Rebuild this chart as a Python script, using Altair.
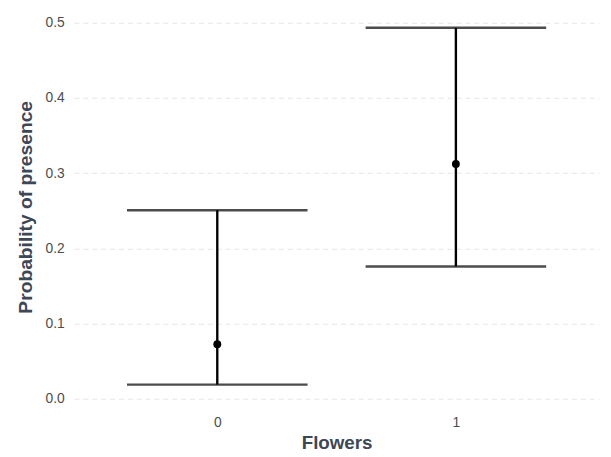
import altair as alt
import pandas as pd

flowers = ["0", "1"]
prob = [0.0726, 0.3123]
lower = [0.0188, 0.1759]
upper = [0.2507, 0.4934]

df = pd.DataFrame({"Flowers": flowers, "prob": prob, "lower": lower, "upper": upper})

title_color = "#3d4756"
label_color = "#4d4d4d"

x = alt.X("Flowers:O", title="Flowers",
          scale=alt.Scale(type="point", padding=0.6),
          axis=alt.Axis(labelAngle=0, ticks=False, domain=False, grid=False,
                        labelColor=label_color, labelFontSize=14, labelPadding=13,
                        titleColor=title_color, titleFontSize=19, titleFontWeight="bold",
                        titlePadding=4, labelFont="Liberation Sans", titleFont="Liberation Sans"))
yscale = alt.Scale(domain=[-0.00525, 0.5157], nice=False, zero=False)
y = alt.Y("prob:Q", title="Probability of presence", scale=yscale,
          axis=alt.Axis(values=[0, 0.1, 0.2, 0.3, 0.4, 0.5], format=".1f",
                        ticks=False, domain=False, grid=True, gridDash=[5, 4],
                        gridColor="#e6e6e6", gridWidth=1,
                        labelColor=label_color, labelFontSize=14, labelPadding=10,
                        titleColor=title_color, titleFontSize=19.5, titleFontWeight="bold",
                        titlePadding=10, labelFont="Liberation Sans", titleFont="Liberation Sans"))

base = alt.Chart(df)
rules = base.mark_rule(color="black", strokeWidth=2.4).encode(
    x=x, y=alt.Y("lower:Q", scale=yscale), y2="upper:Q")
caps_low = base.mark_tick(color="black", orient="horizontal", size=183, thickness=2.4).encode(
    x=x, y=alt.Y("lower:Q", scale=yscale))
caps_high = base.mark_tick(color="black", orient="horizontal", size=183, thickness=2.4).encode(
    x=x, y=alt.Y("upper:Q", scale=yscale))
points = base.mark_point(filled=True, color="black", size=64, opacity=1).encode(x=x, y=y)

chart = alt.layer(points, rules, caps_low, caps_high).properties(
    width=532, height=397,
    background="white",
    autosize=alt.AutoSizeParams(type="none"),
    padding={"left": 67, "top": 0, "right": 4, "bottom": 48},
).configure_view(stroke=None)

chart.save("out.html", embed_options={"renderer": "svg", "actions": False})
